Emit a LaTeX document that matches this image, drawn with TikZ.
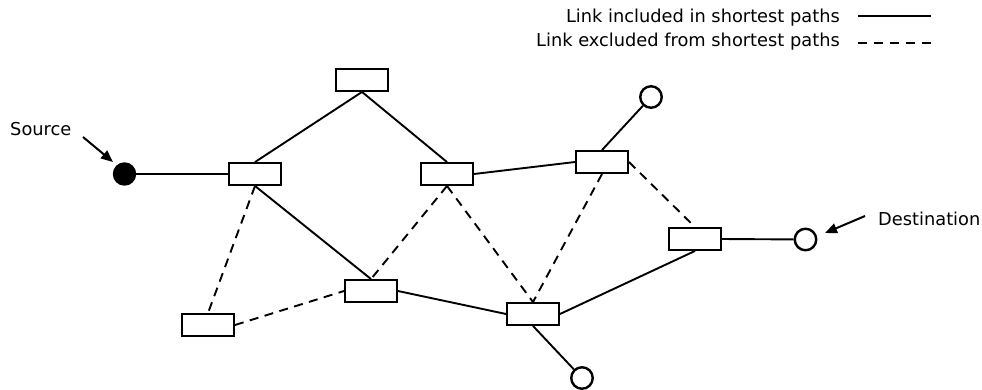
\documentclass[tikz,border=0pt]{standalone}
\usepackage{fontspec}
\setmainfont{DejaVu Sans}
\usetikzlibrary{arrows.meta}
\begin{document}
\begin{tikzpicture}[x=1pt,y=-1pt,
  box/.style={draw,line width=2.4pt,fill=white,minimum width=51.5pt,minimum height=21.5pt,inner sep=0pt},
  term/.style={circle,draw,line width=2.4pt,minimum size=21.5pt,inner sep=0pt,fill=white},
  src/.style={term,fill=black,minimum size=21pt},
  link/.style={line width=1.9pt},
  xlink/.style={line width=1.9pt,dash pattern=on 9pt off 6.5pt},
  legdash/.style={line width=1.9pt,dash pattern=on 9pt off 7pt},
  lbl/.style={font=\fontsize{17.8pt}{20pt}\selectfont,inner sep=0pt},
  pointer/.style={line width=2pt,-{Triangle[length=12pt,width=10pt]}}]
\useasboundingbox (0,0) rectangle (982,389);

% legend
\node[lbl,anchor=base east] (t1) at (840,22.7) {Link included in shortest paths};
\node[lbl,anchor=base east] (t2) at (840,46) {Link excluded from shortest paths};
\coordinate (l1a) at (858,16);
\coordinate (l1b) at (931,16);
\coordinate (l2a) at (858,43.3);
\coordinate (l2b) at (931,43.3);
\draw[link] (l1a) -- (l1b);
\draw[legdash] (l2a) -- (l2b);

% nodes
\node[box] (r1) at (362,80) {};
\node[box] (r2) at (255,174) {};
\node[box] (r3) at (447,174) {};
\node[box] (r4) at (602,162) {};
\node[box] (r5) at (695,239) {};
\node[box] (r6) at (371,291) {};
\node[box] (r7) at (533,314) {};
\node[box] (r8) at (208,325) {};

\node[src] (s) at (124.5,174) {};
\node[term] (c1) at (651,97) {};
\node[term] (d) at (805.5,239.5) {};
\node[term] (c3) at (582,378) {};

% labels
\node[lbl,anchor=base west] (srcl) at (10,135) {Source};
\node[lbl,anchor=base west] (dstl) at (878,225) {Destination};
\coordinate (sa) at (83,137);
\coordinate (sb) at (113,162);
\coordinate (da) at (865,216);
\coordinate (db) at (825,233);
\draw[pointer] (sa) -- (sb);
\draw[pointer] (da) -- (db);

% solid links
\draw[link] (s) -- (r2.west);
\draw[link] (r2.north) -- (r1.south);
\draw[link] (r1.south) -- (r3.north);
\draw[link] (r3.east) -- (r4.west);
\draw[link] (r4.north) -- (c1);
\draw[link] (r2.south) -- (r6.north);
\draw[link] (r6.east) -- (r7.west);
\draw[link] (r7.east) -- (r5.south);
\draw[link] (r5.east) -- (d);
\draw[link] (r7.south) -- (c3);

% dashed links
\draw[xlink] (r2.south) -- (r8.north);
\draw[xlink] (r8.east) -- (r6.west);
\draw[xlink] (r3.south) -- (r6.north);
\draw[xlink] (r3.south) -- (r7.north);
\draw[xlink] (r4.south) -- (r7.north);
\draw[xlink] (r4.east) -- (r5.north);
\end{tikzpicture}
\end{document}
